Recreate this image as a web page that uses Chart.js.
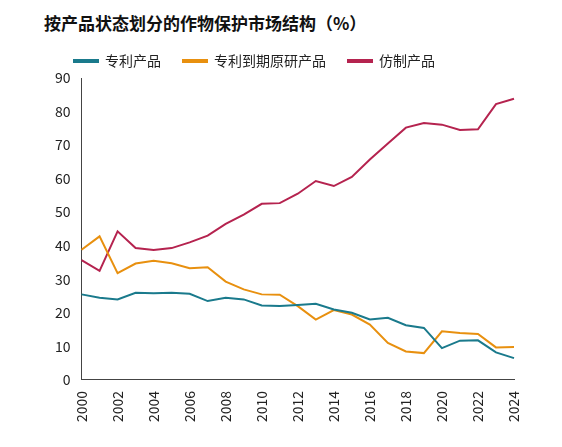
<!DOCTYPE html>
<html><head><meta charset="utf-8">
<script src="https://cdn.jsdelivr.net/npm/chart.js@4"></script>
<style>body{margin:0;background:#fff;font-family:"Noto Sans CJK SC",sans-serif}
#t{position:absolute;left:44px;top:10px;font-size:17px;font-weight:bold;color:#111}
#w{position:absolute;left:0;top:32px;width:562px;height:415px}</style></head>
<body><div id="t">按产品状态划分的作物保护市场结构（%）</div>
<div id="w"><canvas id="c"></canvas></div>
<script>
const years=[];for(let y=2000;y<=2024;y++)years.push(String(y));
const patented=[25.5,24.5,24,26,25.8,26,25.7,23.5,24.5,24,22.2,22,22.3,22.7,21,20,18,18.5,16.3,15.5,9.5,11.7,11.8,8.2,6.5];
const offPatent=[38.8,42.8,31.8,34.7,35.5,34.8,33.3,33.6,29.3,27,25.5,25.4,22,18,20.8,19.5,16.5,11,8.5,8,14.5,14,13.7,9.7,9.8];
const generic=[35.7,32.5,44.3,39.3,38.7,39.3,41,43,46.5,49.3,52.5,52.7,55.5,59.3,57.8,60.5,65.7,70.5,75.2,76.6,76.1,74.5,74.7,82.2,83.8];
const f={family:"Noto Sans CJK SC",size:14};
const ds=(l,d,c)=>({label:l,data:d,borderColor:c,backgroundColor:c,borderWidth:2,pointRadius:0,tension:0});
new Chart(document.getElementById('c'),{type:'line',data:{labels:years,datasets:[
ds('专利产品',patented,'#1a7a8c'),ds('专利到期原研产品',offPatent,'#e8900f'),ds('仿制产品',generic,'#b5234f')]},
options:{responsive:true,maintainAspectRatio:false,animation:false,
layout:{padding:{left:52,right:48,top:0,bottom:22}},
plugins:{legend:{align:'start',labels:{boxWidth:24,boxHeight:2,font:f,color:'#222',padding:22}}},
scales:{x:{grid:{display:false},border:{color:'#444'},ticks:{autoSkip:false,maxRotation:90,minRotation:90,font:f,color:'#222',callback:(v,i)=>i%2==0?years[i]:''}},
y:{min:0,max:90,grid:{display:false},border:{color:'#444'},ticks:{stepSize:10,font:f,color:'#222'}}}}});
</script></body></html>
